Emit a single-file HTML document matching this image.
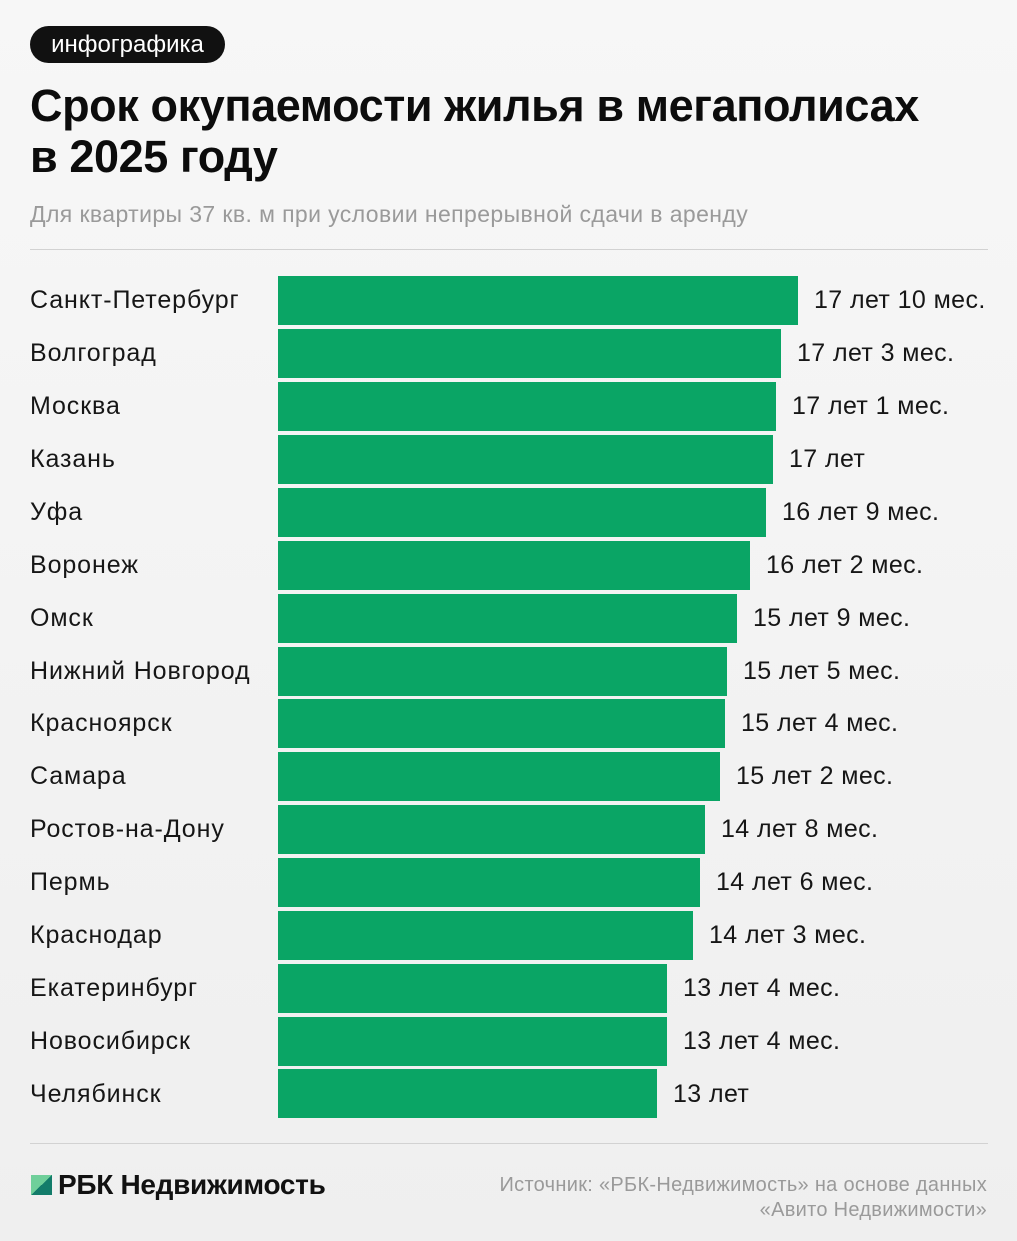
<!DOCTYPE html>
<html><head><meta charset="utf-8"><style>
*{margin:0;padding:0;box-sizing:border-box}
body{width:1017px;height:1241px;background:linear-gradient(180deg,#f7f7f7 0%,#efefef 100%);font-family:"Liberation Sans","DejaVu Sans",sans-serif;position:relative;overflow:hidden;color:#111}
.tag{position:absolute;left:30px;top:26px;height:37px;width:195px;border-radius:19px;background:#111;color:#fff;font-size:24px;line-height:37px;text-align:center}
h1{position:absolute;left:30px;top:80px;font-size:45px;line-height:51px;font-weight:bold;letter-spacing:-0.4px;color:#0c0c0c;white-space:nowrap}
.sub{position:absolute;left:30px;top:201px;font-size:23px;letter-spacing:0.4px;color:#9a9a9a;white-space:nowrap}
.hr{position:absolute;left:30px;width:958px;height:1px;background:#d2d2d2}
.lab{position:absolute;left:30px;font-size:25px;letter-spacing:0.9px;line-height:30px;color:#161616;white-space:nowrap}
.bar{position:absolute;left:278px;height:49px;background:#0aa565}
.val{position:absolute;font-size:25px;letter-spacing:0.4px;line-height:30px;color:#161616;white-space:nowrap}
.logo{position:absolute;left:31px;top:1175px;width:21px;height:20px;background:linear-gradient(to bottom right,#6fcf9a 50%,#137c6a 50%)}
.brand{position:absolute;left:58px;top:1169px;font-size:28px;font-weight:bold;letter-spacing:-0.3px;color:#111;white-space:nowrap}
.src{position:absolute;right:30px;top:1173px;font-size:20px;letter-spacing:0.3px;line-height:25px;color:#9a9a9a;text-align:right;white-space:nowrap}
</style></head><body>
<div class="tag">инфографика</div>
<h1>Срок окупаемости жилья в мегаполисах<br>в 2025 году</h1>
<div class="sub">Для квартиры 37 кв. м при условии непрерывной сдачи в аренду</div>
<div class="hr" style="top:249px"></div>

<div class="lab" style="top:285px">Санкт-Петербург</div><div class="bar" style="top:276px;width:520px"></div><div class="val" style="top:285px;left:814px">17 лет 10 мес.</div>
<div class="lab" style="top:338px">Волгоград</div><div class="bar" style="top:329px;width:503px"></div><div class="val" style="top:338px;left:797px">17 лет 3 мес.</div>
<div class="lab" style="top:391px">Москва</div><div class="bar" style="top:382px;width:498px"></div><div class="val" style="top:391px;left:792px">17 лет 1 мес.</div>
<div class="lab" style="top:444px">Казань</div><div class="bar" style="top:435px;width:495px"></div><div class="val" style="top:444px;left:789px">17 лет</div>
<div class="lab" style="top:497px">Уфа</div><div class="bar" style="top:488px;width:488px"></div><div class="val" style="top:497px;left:782px">16 лет 9 мес.</div>
<div class="lab" style="top:550px">Воронеж</div><div class="bar" style="top:541px;width:472px"></div><div class="val" style="top:550px;left:766px">16 лет 2 мес.</div>
<div class="lab" style="top:603px">Омск</div><div class="bar" style="top:594px;width:459px"></div><div class="val" style="top:603px;left:753px">15 лет 9 мес.</div>
<div class="lab" style="top:656px">Нижний Новгород</div><div class="bar" style="top:647px;width:449px"></div><div class="val" style="top:656px;left:743px">15 лет 5 мес.</div>
<div class="lab" style="top:708px">Красноярск</div><div class="bar" style="top:699px;width:447px"></div><div class="val" style="top:708px;left:741px">15 лет 4 мес.</div>
<div class="lab" style="top:761px">Самара</div><div class="bar" style="top:752px;width:442px"></div><div class="val" style="top:761px;left:736px">15 лет 2 мес.</div>
<div class="lab" style="top:814px">Ростов-на-Дону</div><div class="bar" style="top:805px;width:427px"></div><div class="val" style="top:814px;left:721px">14 лет 8 мес.</div>
<div class="lab" style="top:867px">Пермь</div><div class="bar" style="top:858px;width:422px"></div><div class="val" style="top:867px;left:716px">14 лет 6 мес.</div>
<div class="lab" style="top:920px">Краснодар</div><div class="bar" style="top:911px;width:415px"></div><div class="val" style="top:920px;left:709px">14 лет 3 мес.</div>
<div class="lab" style="top:973px">Екатеринбург</div><div class="bar" style="top:964px;width:389px"></div><div class="val" style="top:973px;left:683px">13 лет 4 мес.</div>
<div class="lab" style="top:1026px">Новосибирск</div><div class="bar" style="top:1017px;width:389px"></div><div class="val" style="top:1026px;left:683px">13 лет 4 мес.</div>
<div class="lab" style="top:1079px">Челябинск</div><div class="bar" style="top:1069px;width:379px"></div><div class="val" style="top:1079px;left:673px">13 лет</div>

<div class="hr" style="top:1143px"></div>
<div class="logo"></div>
<div class="brand">РБК Недвижимость</div>
<div class="src">Источник: «РБК-Недвижимость» на основе данных<br>«Авито Недвижимости»</div>
</body></html>
